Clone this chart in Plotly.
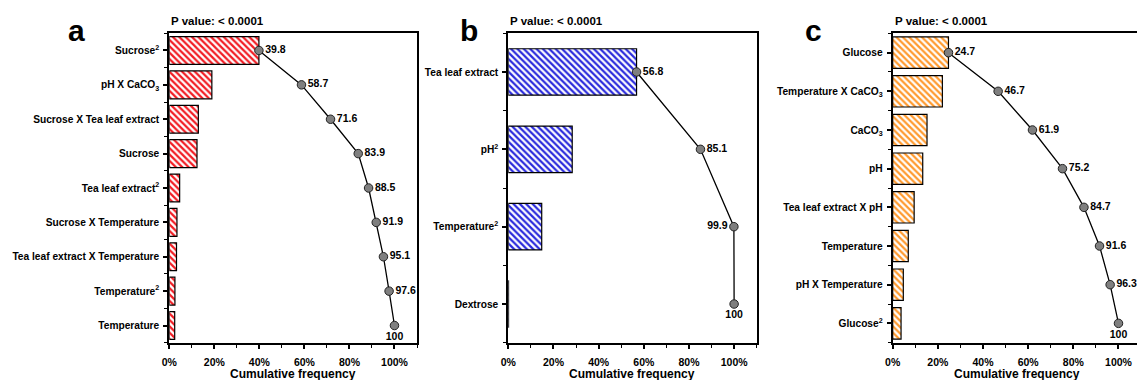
import plotly.graph_objects as go

# ---------------- data ----------------
labels_a = ["Sucrose<sup>2</sup>", "pH X CaCO<sub>3</sub>", "Sucrose X Tea leaf extract", "Sucrose",
            "Tea leaf extract<sup>2</sup>", "Sucrose X Temperature", "Tea leaf extract X Temperature",
            "Temperature<sup>2</sup>", "Temperature"]
bars_a = [39.8, 18.9, 12.9, 12.3, 4.6, 3.4, 3.2, 2.5, 2.4]
cum_a = [39.8, 58.7, 71.6, 83.9, 88.5, 91.9, 95.1, 97.6, 100]
cum_text_a = ["39.8", "58.7", "71.6", "83.9", "88.5", "91.9", "95.1", "97.6", "100"]

labels_b = ["Tea leaf extract", "pH<sup>2</sup>", "Temperature<sup>2</sup>", "Dextrose"]
bars_b = [56.8, 28.3, 14.8, 0.1]
cum_b = [56.8, 85.1, 99.9, 100]
cum_text_b = ["56.8", "85.1", "99.9", "100"]

labels_c = ["Glucose", "Temperature X CaCO<sub>3</sub>", "CaCO<sub>3</sub>", "pH", "Tea leaf extract X pH",
            "Temperature", "pH X Temperature", "Glucose<sup>2</sup>"]
bars_c = [24.7, 22.0, 15.2, 13.3, 9.5, 6.9, 4.7, 3.7]
cum_c = [24.7, 46.7, 61.9, 75.2, 84.7, 91.6, 96.3, 100]
cum_text_c = ["24.7", "46.7", "61.9", "75.2", "84.7", "91.6", "96.3", "100"]

x_ticks = [0, 20, 40, 60, 80, 100]
x_tick_text = ["0%", "20%", "40%", "60%", "80%", "100%"]
p_text = "P value: < 0.0001"
x_title = "Cumulative frequency"

# ---------------- styling ----------------
W, H = 1137, 380
FONT = "Arial, Liberation Sans, sans-serif"
panels = [
    dict(labels=labels_a, bars=bars_a, cum=cum_a, txt=cum_text_a, color="#f21d24", bw=0.81,
         pos=["middle right"] * 8 + ["bottom center"], xdom=[169.3, 417.0], xmax=110, letter="a",
         lx=76, mirror_y=True),
    dict(labels=labels_b, bars=bars_b, cum=cum_b, txt=cum_text_b, color="#2b2bdc", bw=0.6,
         pos=["middle right", "middle right", "middle left", "bottom center"], xdom=[508.3, 756.7],
         xmax=110, letter="b", lx=469, mirror_y=True),
    dict(labels=labels_c, bars=bars_c, cum=cum_c, txt=cum_text_c, color="#ff9a2e", bw=0.81,
         pos=["middle right"] * 7 + ["bottom center"], xdom=[892.7, 1137.0], xmax=108.2, letter="c",
         lx=813, mirror_y=False),
]
ytop, ybot = 33.3, 342.7

fig = go.Figure()
annotations = []
for i, p in enumerate(panels, start=1):
    n = len(p["labels"])
    idx = list(range(n))
    xa = "x" if i == 1 else f"x{i}"
    ya = "y" if i == 1 else f"y{i}"
    fig.add_trace(go.Bar(
        x=p["bars"], y=idx, orientation="h", width=p["bw"], xaxis=xa, yaxis=ya,
        marker=dict(color="white", line=dict(color="black", width=1.2),
                    pattern=dict(shape="\\", fgcolor=p["color"], bgcolor="white", size=4.5, solidity=0.5,
                                 fillmode="replace", fgopacity=1)),
        showlegend=False, hoverinfo="skip"))
    fig.add_trace(go.Scatter(
        x=p["cum"], y=idx, mode="lines+markers+text", xaxis=xa, yaxis=ya,
        line=dict(color="black", width=1.3),
        marker=dict(size=8.5, color="#7f7f7f", line=dict(color="#222222", width=1)),
        text=p["txt"], textposition=p["pos"],
        textfont=dict(family=FONT, size=10.5, color="black", weight="bold"),
        showlegend=False, hoverinfo="skip", cliponaxis=False))
    xkey = "xaxis" if i == 1 else f"xaxis{i}"
    ykey = "yaxis" if i == 1 else f"yaxis{i}"
    fig.update_layout(**{
        xkey: dict(domain=[p["xdom"][0] / W, p["xdom"][1] / W], range=[0, p["xmax"]], anchor=ya,
                   automargin=False,
                   tickmode="array", tickvals=x_ticks, ticktext=x_tick_text, ticks="outside", ticklen=4,
                   tickwidth=1.5, ticklabelstandoff=5,
                   tickcolor="black", showline=True, linewidth=2, linecolor="black", mirror=True,
                   showgrid=False, zeroline=False,
                   minor=dict(dtick=10, tick0=0, ticks="outside", ticklen=3, tickwidth=1.2, tickcolor="black"),
                   tickfont=dict(family=FONT, size=10.5, color="black", weight="bold")),
        ykey: dict(domain=[(H - ybot) / H, (H - ytop) / H], range=[n - 0.5, -0.5], anchor=xa,
                   automargin=False,
                   tickmode="array", tickvals=idx, ticktext=p["labels"], ticks="outside", ticklen=4,
                   tickwidth=1.5, ticklabelstandoff=2,
                   tickcolor="black", showline=True, linewidth=2, linecolor="black", mirror=p["mirror_y"],
                   showgrid=False, zeroline=False,
                   minor=dict(dtick=1, tick0=0.5, ticks="outside", ticklen=3, tickwidth=1.2, tickcolor="black"),
                   tickfont=dict(family=FONT, size=10.2, color="black", weight="bold")),
    })
    annotations.append(dict(text=p_text, x=p["xdom"][0] / W, y=(H - 20.7) / H, xref="paper",
                            yref="paper", xanchor="left", yanchor="middle", showarrow=False,
                            font=dict(family=FONT, size=11.5, color="black", weight="bold")))
    annotations.append(dict(text=p["letter"], x=p["lx"] / W, y=(H - 30) / H, xref="paper", yref="paper",
                            xanchor="center", yanchor="middle", showarrow=False,
                            font=dict(family=FONT, size=30, color="black", weight="bold")))
    annotations.append(dict(text=x_title, x=(p["xdom"][0] + 248.0 / 2) / W, y=(H - 374) / H,
                            xref="paper", yref="paper", xanchor="center", yanchor="middle",
                            showarrow=False,
                            font=dict(family=FONT, size=12, color="black", weight="bold")))

fig.update_layout(width=W, height=H, autosize=False, margin=dict(l=0, r=0, t=0, b=0, autoexpand=False),
                  paper_bgcolor="white", plot_bgcolor="white", annotations=annotations)
fig.write_html("out.html")
